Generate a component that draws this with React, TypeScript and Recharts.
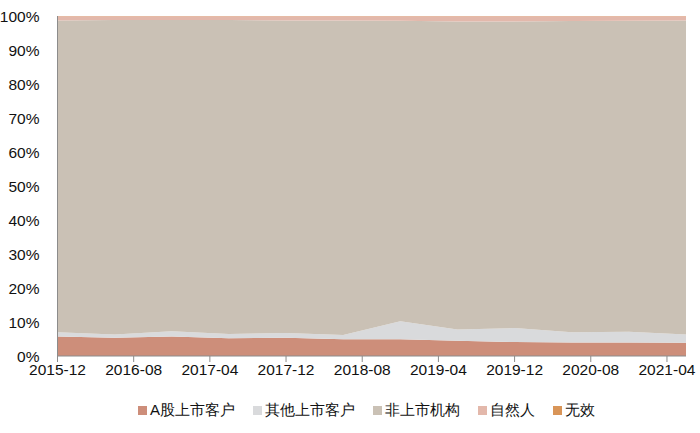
import React from 'react'
import { AreaChart, Area, XAxis, YAxis, Legend } from 'recharts'

// ─── Data (half-year points, share in %) ─────────────────────────────────────

const periods = [
  '2015-12', '2016-06', '2016-12', '2017-06', '2017-12', '2018-06',
  '2018-12', '2019-06', '2019-12', '2020-06', '2020-12', '2021-06',
]

const aShareClients = [5.7, 5.4, 5.7, 5.2, 5.4, 4.9, 4.9, 4.5, 4.1, 4.0, 4.0, 3.9]
const otherListedClients = [1.3, 0.9, 1.6, 1.3, 1.4, 1.3, 5.3, 3.3, 4.1, 3.0, 3.1, 2.4]
const unlistedInstitutions = [91.7, 92.5, 91.5, 92.3, 91.9, 92.5, 88.4, 90.6, 90.2, 91.5, 91.5, 92.4]
const naturalPersons = [1.2, 1.1, 1.1, 1.1, 1.2, 1.2, 1.3, 1.5, 1.5, 1.4, 1.3, 1.2]
const invalid = [0.1, 0.1, 0.1, 0.1, 0.1, 0.1, 0.1, 0.1, 0.1, 0.1, 0.1, 0.1]

const xTickLabels = [
  '2015-12', '2016-08', '2017-04', '2017-12', '2018-08',
  '2019-04', '2019-12', '2020-08', '2021-04',
]

const yTicks = [0, 0.1, 0.2, 0.3, 0.4, 0.5, 0.6, 0.7, 0.8, 0.9, 1]

// ─── Series ──────────────────────────────────────────────────────────────────

const SERIES = [
  { key: 'a', name: 'A股上市客户', color: '#cd8e7a' },
  { key: 'other', name: '其他上市客户', color: '#d9dadc' },
  { key: 'unlisted', name: '非上市机构', color: '#cac1b5' },
  { key: 'natural', name: '自然人', color: '#e3b8ab' },
  { key: 'invalid', name: '无效', color: '#d99558' },
]

// months since 2015-12, so the numeric axis can place ticks every 8 months
function monthIndex(p: string): number {
  const [y, m] = p.split('-').map(Number)
  return (y - 2015) * 12 + (m - 12)
}

const data = periods.map((p, i) => ({
  t: monthIndex(p),
  a: aShareClients[i],
  other: otherListedClients[i],
  unlisted: unlistedInstitutions[i],
  natural: naturalPersons[i],
  invalid: invalid[i],
}))

const tickValues = xTickLabels.map(monthIndex)
const labelByIndex: Record<number, string> = {}
xTickLabels.forEach(l => { labelByIndex[monthIndex(l)] = l })

const FONT = '"Liberation Sans", Arial, Helvetica, sans-serif'

function LegendContent() {
  return (
    <div style={{ display: 'flex', justifyContent: 'center', gap: 18, paddingTop: 15, paddingLeft: 47, fontFamily: FONT, fontSize: 15, color: '#111' }}>
      {SERIES.map(s => (
        <div key={s.key} style={{ display: 'flex', alignItems: 'center' }}>
          <span style={{ width: 9, height: 9, background: s.color, display: 'inline-block', marginRight: 3 }} />
          <span>{s.name}</span>
        </div>
      ))}
    </div>
  )
}

export default function App() {
  return (
    <div style={{ position: 'absolute', left: 0, top: 0, background: '#fff' }}>
      <AreaChart
        width={700}
        height={433}
        data={data}
        stackOffset="expand"
        margin={{ top: 16, right: 14, bottom: 7, left: 0 }}
      >
        <XAxis
          dataKey="t"
          type="number"
          domain={[0, 66]}
          ticks={tickValues}
          tickFormatter={(v: number) => labelByIndex[v] ?? ''}
          height={30}
          tickSize={6}
          stroke="#8c8c8c"
          tick={{ fill: '#111', fontSize: 15.5, fontFamily: FONT }}
          interval={0}
        />
        <YAxis
          width={57.5}
          domain={[0, 1]}
          ticks={yTicks}
          tickFormatter={(v: number) => `${Math.round(v * 100)}%`}
          tickLine={false}
          tickMargin={12}
          stroke="#8c8c8c"
          tick={{ fill: '#111', fontSize: 15.5, fontFamily: FONT }}
          interval={0}
        />
        <Legend verticalAlign="bottom" height={40} content={<LegendContent />} />
        {SERIES.map(s => (
          <Area
            key={s.key}
            type="linear"
            dataKey={s.key}
            name={s.name}
            stackId="1"
            stroke="none"
            fill={s.color}
            fillOpacity={1}
            isAnimationActive={false}
          />
        ))}
      </AreaChart>
    </div>
  )
}
